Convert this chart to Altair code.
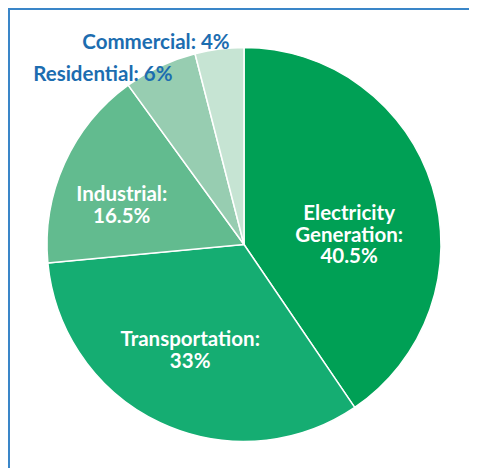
import altair as alt
import pandas as pd

categories = ["Electricity Generation", "Transportation", "Industrial", "Residential", "Commercial"]
shares = [40.5, 33, 16.5, 6, 4]
labels = [["Electricity", "Generation:", "40.5%"], ["Transportation:", "33%"], ["Industrial:", "16.5%"],
          ["Residential: 6%"], ["Commercial: 4%"]]
colors = ["#00a055", "#15ad72", "#62bb8f", "#97cdb1", "#c6e4d3"]

df = pd.DataFrame({"sector": categories, "share": shares, "order": list(range(len(categories))), "label": labels})

CX, CY = 234, 234.5
R = 197
theta_scale = alt.Scale(domain=[0, 100])

pie = alt.Chart(df).mark_arc(outerRadius=R, stroke="white", strokeWidth=1.5).encode(
    theta=alt.Theta("share:Q", stack=True, scale=theta_scale),
    order=alt.Order("order:O"),
    color=alt.Color("sector:N", scale=alt.Scale(domain=categories, range=colors), legend=None),
    x=alt.value(CX), y=alt.value(CY),
)

base = alt.Chart(df).transform_window(
    cum="sum(share)", sort=[alt.SortField("order")], frame=[None, 0]
).transform_calculate(mid="datum.cum - datum.share / 2")

# (radius, dx, dy, color)
styles = [
    (110, 0, 2, "white"),
    (110, -7, -4, "white"),
    (110, -22, -4, "white"),
    (200, -56, 11.5, "#1c6db0"),
    (200, -63, -3, "#1c6db0"),
]

layers = [pie]
for i, (r, dx, dy, col) in enumerate(styles):
    layers.append(
        base.transform_filter(f"datum.order == {i}").mark_text(
            radius=r, dx=dx, dy=dy, color=col, font="Lato", fontSize=20.5, fontWeight="bold",
            lineHeight=21.5, align="center", baseline="middle"
        ).encode(
            theta=alt.Theta("mid:Q", scale=theta_scale),
            text="label",
            x=alt.value(CX), y=alt.value(CY),
        )
    )

frame_top = alt.Chart(df).mark_rule(color="#3a86c8", strokeWidth=2).encode(
    x=alt.value(-2), x2=alt.value(470), y=alt.value(-1)
)
frame_left = alt.Chart(df).mark_rule(color="#3a86c8", strokeWidth=2).encode(
    x=alt.value(-1), y=alt.value(-2), y2=alt.value(470)
)
layers += [frame_top, frame_left]

chart = alt.layer(*layers).properties(
    width=459, height=458,
    padding={"left": 2, "top": 2, "right": 0, "bottom": 0},
    autosize=alt.AutoSizeParams(type="none"),
).configure_view(stroke=None)

chart.save("out.html", embed_options={"renderer": "svg", "actions": False})
